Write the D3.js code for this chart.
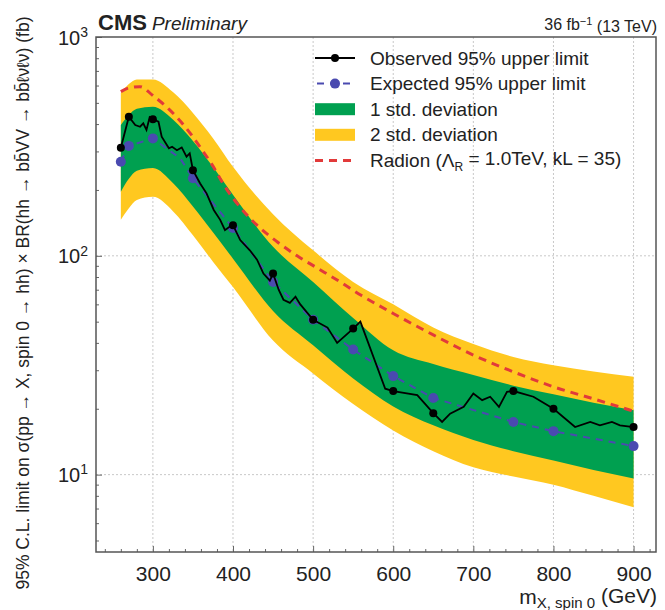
<html>
<head>
  <meta charset="UTF-8">
  <title>CMS hh limit</title>
  <script src="https://d3js.org/d3.v7.min.js"></script>
  <style>
    body { margin: 0; background: white; }
    svg text { font-family: "Liberation Sans", Arial, sans-serif; fill: #222; }
  </style>
</head>
<body>
<svg id="chart"></svg>
<script>
  // ---- data (fb) ----
  let bandMass = [260, 270, 280, 300, 325, 350, 375, 400, 450, 500, 550, 600, 650, 700, 750, 800, 850, 900];
  let plus2    = [555, 610, 640, 640, 560, 450, 345, 255, 155, 106, 76, 60, 47, 39.5, 34.5, 31.6, 29.6, 28.0];
  let plus1    = [396, 440, 470, 480, 420, 335, 255, 190, 110, 76, 52, 37, 32, 28.5, 25.5, 23.3, 21.3, 19.7];
  let minus1   = [196, 225, 245, 252, 215, 168, 128, 97, 56, 39, 27.5, 20.5, 16.8, 14.4, 12.8, 11.6, 10.5, 9.6];
  let minus2   = [146, 165, 180, 186, 160, 124, 94, 72, 41, 29, 21, 15.9, 12.8, 10.8, 9.8, 9.0, 8.0, 7.1];

  let expMass = [260, 270, 300, 334, 350, 400, 450, 500, 550, 600, 650, 750, 800, 900];
  let expVal  = [269, 318, 344, 279, 226, 134, 76, 51, 37.3, 28.2, 22.4, 17.4, 15.8, 13.5];

  let obsMass = [260, 270, 278, 284, 288, 292, 296, 300, 307, 311, 320, 324, 330, 336, 342, 346, 350,
                 359, 367, 376, 384, 390, 396, 400, 409, 421, 430, 438, 446, 450, 457, 463, 471, 478, 484,
                 500, 518, 530, 550, 559, 590, 600, 630, 650, 661, 671, 688, 700, 711, 721, 732, 742, 750,
                 775, 800, 827, 846, 858, 873, 883, 900];
  let obsVal  = [312, 432, 396, 389, 403, 376, 430, 421, 410, 350, 310, 315, 304, 313, 284, 294, 246,
                 214, 193, 162, 146, 131, 136, 138, 118, 106, 96, 83, 77, 83, 70, 63, 61, 65, 60,
                 51, 47, 40, 46.5, 50, 24.7, 24.1, 23.1, 19.1, 17.4, 19.0, 20.4, 23.5, 21.9, 22.7, 20.4, 23.9, 24.1,
                 22.7, 20.0, 16.5, 17.4, 16.8, 17.4, 16.8, 16.5];

  let markerMass = [260, 270, 300, 350, 400, 450, 500, 550, 600, 650, 750, 800, 900];

  let radMass = [260, 270, 284, 300, 320, 340, 360, 375, 390, 410, 430, 455, 480, 505, 530, 560, 600, 650, 700, 750, 800, 850, 900];
  let radVal  = [563, 585, 593, 540, 468, 390, 310, 257, 207, 165, 138, 116, 100, 88, 77.5, 66, 54.5, 43.5, 35.2, 29.5, 25.2, 22.2, 19.5];

  let xTicks = [300, 400, 500, 600, 700, 800, 900];
  let yTicks = [10, 100, 1000];
  let yExp   = ["1", "2", "3"];

  let legendLabels = ["Observed 95% upper limit", "Expected 95% upper limit", "1 std. deviation", "2 std. deviation"];

  // ---- layout ----
  let width = 665, height = 610;
  let pL = 96, pR = 656, pT = 37, pB = 552;

  let green = "#00a050", yellow = "#ffc820", blue = "#4a4ab0", red = "#e23a3a";

  let svg = d3.select("#chart").attr("width", width).attr("height", height);

  let x = d3.scaleLinear().domain([229, 928]).range([pL, pR]);
  let y = d3.scaleLog().domain([4.43, 1000]).range([pB, pT]);

  // grid
  let grid = svg.append("g");
  grid.selectAll(".vg").data(xTicks).join("line")
      .attr("x1", d => x(d)).attr("x2", d => x(d))
      .attr("y1", pT).attr("y2", pB)
      .attr("stroke", "#c8c8c8").attr("stroke-dasharray", "2,2");
  grid.selectAll(".hg").data([10, 100]).join("line")
      .attr("x1", pL).attr("x2", pR)
      .attr("y1", d => y(d)).attr("y2", d => y(d))
      .attr("stroke", "#c8c8c8").attr("stroke-dasharray", "2,2");

  // bands
  let bandIdx = d3.range(bandMass.length);
  let band = (hi, lo) => d3.area()
      .x(i => x(bandMass[i]))
      .y0(i => y(lo[i]))
      .y1(i => y(hi[i]))
      .curve(d3.curveMonotoneX);

  svg.append("path").datum(bandIdx).attr("d", band(plus2, minus2)).attr("fill", yellow);
  svg.append("path").datum(bandIdx).attr("d", band(plus1, minus1)).attr("fill", green);

  // radion
  let radLine = d3.line().x(i => x(radMass[i])).y(i => y(radVal[i])).curve(d3.curveMonotoneX);
  svg.append("path").datum(d3.range(radMass.length)).attr("d", radLine)
      .attr("fill", "none").attr("stroke", red).attr("stroke-width", 3).attr("stroke-dasharray", "8,6");

  // expected
  let expLine = d3.line().x(i => x(expMass[i])).y(i => y(expVal[i]));
  svg.append("path").datum(d3.range(expMass.length)).attr("d", expLine)
      .attr("fill", "none").attr("stroke", blue).attr("stroke-width", 2).attr("stroke-dasharray", "7,6");
  svg.selectAll(".expdot").data(d3.range(expMass.length).filter(i => markerMass.includes(expMass[i])))
      .join("circle")
      .attr("cx", i => x(expMass[i])).attr("cy", i => y(expVal[i]))
      .attr("r", 5).attr("fill", blue);

  // observed
  let obsLine = d3.line().x(i => x(obsMass[i])).y(i => y(obsVal[i]));
  svg.append("path").datum(d3.range(obsMass.length)).attr("d", obsLine)
      .attr("fill", "none").attr("stroke", "black").attr("stroke-width", 1.8);
  svg.selectAll(".obsdot").data(d3.range(obsMass.length).filter(i => markerMass.includes(obsMass[i])))
      .join("circle")
      .attr("cx", i => x(obsMass[i])).attr("cy", i => y(obsVal[i]))
      .attr("r", 4).attr("fill", "black");

  // axes
  let xAxis = svg.append("g").attr("transform", `translate(0,${pB})`)
      .call(d3.axisBottom(x).tickValues(xTicks).tickSizeInner(-6).tickSizeOuter(0).tickPadding(14));
  xAxis.select(".domain").remove();
  xAxis.selectAll("text").style("font-size", "21px").attr("fill", "#222");
  xAxis.selectAll("line").attr("stroke", "#666");

  let xMinor = svg.append("g").attr("transform", `translate(0,${pB})`)
      .call(d3.axisBottom(x).tickValues(d3.range(240, 921, 20).filter(v => v % 100 != 0))
            .tickSizeInner(-3).tickSizeOuter(0).tickFormat(""));
  xMinor.select(".domain").remove();
  xMinor.selectAll("line").attr("stroke", "#666");

  let yMinorVals = [];
  [1, 10, 100].forEach(dec => d3.range(2, 10).forEach(k => { if (k * dec > 4.43) yMinorVals.push(k * dec); }));
  let yMinor = svg.append("g").attr("transform", `translate(${pL},0)`)
      .call(d3.axisLeft(y).tickValues(yMinorVals).tickSizeInner(-3).tickSizeOuter(0).tickFormat(""));
  yMinor.select(".domain").remove();
  yMinor.selectAll("line").attr("stroke", "#666");

  let yAxis = svg.append("g").attr("transform", `translate(${pL},0)`)
      .call(d3.axisLeft(y).tickValues(yTicks).tickSizeInner(-6).tickSizeOuter(0).tickPadding(12).tickFormat(""));
  yAxis.select(".domain").remove();
  yAxis.selectAll("line").attr("stroke", "#666");
  yAxis.selectAll(".tick").append("text")
      .attr("x", -8).attr("dy", "0.35em").attr("text-anchor", "end")
      .style("font-size", "20px")
      .each(function(d, i) {
        let t = d3.select(this);
        t.append("tspan").text("10");
        t.append("tspan").attr("dy", "-0.55em").style("font-size", "14px").text(yExp[i]);
      });

  // frame
  svg.append("rect").attr("x", pL).attr("y", pT)
      .attr("width", pR - pL).attr("height", pB - pT)
      .attr("fill", "none").attr("stroke", "#555").attr("stroke-width", 1.5);

  // header
  let head = svg.append("text").attr("x", pL + 2).attr("y", 30);
  head.append("tspan").style("font-weight", "bold").style("font-size", "22px").text("CMS");
  head.append("tspan").attr("dx", 5).style("font-style", "italic").style("font-size", "19px").text("Preliminary");

  let lumi = svg.append("text").attr("x", pR + 1).attr("y", 30).attr("text-anchor", "end").style("font-size", "16px");
  lumi.append("tspan").text("36 fb");
  lumi.append("tspan").attr("dy", "-0.45em").style("font-size", "11px").text("\u22121");
  lumi.append("tspan").attr("dy", "0.45em").text(" (13 TeV)");

  // x label
  let xl = svg.append("text").attr("x", pR + 1).attr("y", 604).attr("text-anchor", "end").style("font-size", "21px");
  xl.append("tspan").text("m");
  xl.append("tspan").attr("dy", "0.25em").style("font-size", "15px").text("X, spin 0");
  xl.append("tspan").attr("dy", "-0.25em").text(" (GeV)");

  // y label
  let yl = svg.append("text").attr("transform", "translate(29,303) rotate(-90)")
      .attr("text-anchor", "middle").style("font-size", "17.5px");
  yl.append("tspan").text("95% C.L. limit on \u03c3(pp \u2192 X, spin 0 \u2192 hh) \u00d7 BR(hh \u2192 b\u0062\u0304VV \u2192 b\u0062\u0304\u2113\u03bd\u2113\u03bd) (fb)");

  // legend
  let lg = svg.append("g");
  let ly = i => 58 + i * 25.6;
  let lx0 = 315, lx1 = 355;
  lg.append("line").attr("x1", lx0).attr("x2", lx1).attr("y1", ly(0)).attr("y2", ly(0)).attr("stroke", "black").attr("stroke-width", 1.8);
  lg.append("circle").attr("cx", (lx0 + lx1) / 2).attr("cy", ly(0)).attr("r", 4).attr("fill", "black");
  lg.append("line").attr("x1", lx0).attr("x2", lx1).attr("y1", ly(1)).attr("y2", ly(1)).attr("stroke", blue).attr("stroke-width", 2).attr("stroke-dasharray", "7,6").attr("stroke-dashoffset", -2);
  lg.append("circle").attr("cx", (lx0 + lx1) / 2).attr("cy", ly(1)).attr("r", 5).attr("fill", blue);
  lg.append("rect").attr("x", lx0).attr("y", ly(2) - 6).attr("width", lx1 - lx0).attr("height", 12).attr("fill", green);
  lg.append("rect").attr("x", lx0).attr("y", ly(3) - 6).attr("width", lx1 - lx0).attr("height", 12).attr("fill", yellow);
  lg.append("line").attr("x1", lx0).attr("x2", lx1).attr("y1", ly(4)).attr("y2", ly(4)).attr("stroke", red).attr("stroke-width", 3).attr("stroke-dasharray", "8,6");

  lg.selectAll(".lt").data(legendLabels).join("text")
      .attr("x", 370).attr("y", (d, i) => ly(i)).attr("dy", "0.35em")
      .style("font-size", "19px").text(d => d);

  let rt = lg.append("text").attr("x", 370).attr("y", ly(4)).attr("dy", "0.35em").style("font-size", "19px");
  rt.append("tspan").text("Radion (\u039b");
  rt.append("tspan").attr("dy", "0.3em").style("font-size", "12px").text("R");
  rt.append("tspan").attr("dy", "-0.3em").text(" = 1.0TeV, kL = 35)");
</script>
</body>
</html>
